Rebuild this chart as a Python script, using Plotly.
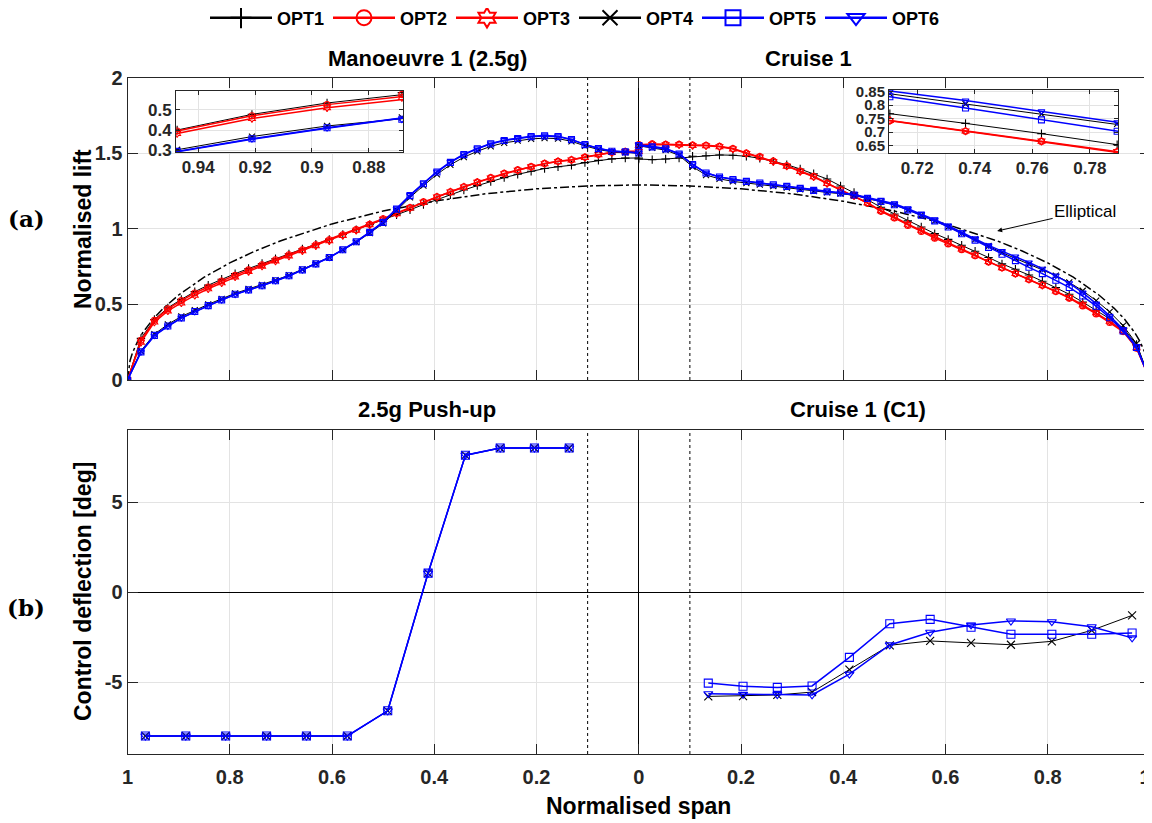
import plotly.graph_objects as go

W, H = 1152, 823
OFF = 8  # page body margin around the figure
FW, FH = W - OFF, H - OFF

# ---------------- data ----------------
# spanwise stations (fraction of half-span), root -> tip
span_eta = [0.0, 0.0263, 0.0526, 0.0789, 0.1053, 0.1316, 0.1579, 0.1842, 0.2105, 0.2368,
            0.2632, 0.2895, 0.3158, 0.3421, 0.3684, 0.3947, 0.4211, 0.4474, 0.4737, 0.5,
            0.5263, 0.5526, 0.5789, 0.6053, 0.6316, 0.6579, 0.6842, 0.7105, 0.7368, 0.7632,
            0.7895, 0.8158, 0.8421, 0.8684, 0.8947, 0.9211, 0.9474, 0.9737, 1.0]

# Manoeuvre 1 (2.5g), left half, tip -> root
man_opt1 = [0, 0.275, 0.400, 0.477, 0.533, 0.584, 0.627, 0.666, 0.703, 0.737, 0.770, 0.802, 0.834,
            0.866, 0.898, 0.930, 0.962, 0.994, 1.027, 1.060, 1.092, 1.125, 1.160, 1.193, 1.225, 1.256,
            1.285, 1.312, 1.338, 1.360, 1.380, 1.398, 1.410, 1.420, 1.437, 1.452, 1.462, 1.467, 1.468]
man_opt2 = [0, 0.262, 0.395, 0.470, 0.525, 0.575, 0.615, 0.655, 0.693, 0.728, 0.762, 0.795, 0.828,
            0.861, 0.894, 0.927, 0.960, 0.994, 1.030, 1.066, 1.104, 1.140, 1.178, 1.212, 1.245, 1.278,
            1.309, 1.338, 1.366, 1.389, 1.411, 1.432, 1.446, 1.456, 1.474, 1.492, 1.506, 1.511, 1.512]
man_opt3 = [0, 0.250, 0.383, 0.457, 0.510, 0.560, 0.603, 0.643, 0.682, 0.718, 0.753, 0.787, 0.820,
            0.854, 0.887, 0.921, 0.955, 0.990, 1.026, 1.062, 1.100, 1.137, 1.175, 1.210, 1.243, 1.276,
            1.307, 1.336, 1.364, 1.387, 1.409, 1.430, 1.444, 1.455, 1.472, 1.490, 1.504, 1.510, 1.511]
man_opt4 = [0, 0.193, 0.303, 0.368, 0.420, 0.462, 0.500, 0.537, 0.573, 0.602, 0.629, 0.661, 0.693,
            0.731, 0.770, 0.811, 0.860, 0.911, 0.971, 1.035, 1.120, 1.207, 1.285, 1.360, 1.423, 1.473,
            1.512, 1.545, 1.568, 1.582, 1.594, 1.599, 1.596, 1.578, 1.548, 1.524, 1.508, 1.505, 1.499]
man_opt5 = [0, 0.186, 0.295, 0.357, 0.411, 0.453, 0.492, 0.530, 0.567, 0.596, 0.623, 0.656, 0.689,
            0.728, 0.768, 0.810, 0.861, 0.914, 0.976, 1.042, 1.130, 1.219, 1.298, 1.375, 1.439, 1.490,
            1.528, 1.561, 1.583, 1.596, 1.609, 1.614, 1.609, 1.589, 1.556, 1.530, 1.512, 1.508, 1.501]
man_opt6 = [0, 0.184, 0.293, 0.355, 0.409, 0.451, 0.490, 0.528, 0.565, 0.594, 0.622, 0.655, 0.688,
            0.727, 0.767, 0.810, 0.862, 0.916, 0.978, 1.045, 1.133, 1.222, 1.301, 1.378, 1.442, 1.493,
            1.531, 1.564, 1.586, 1.599, 1.611, 1.616, 1.611, 1.591, 1.558, 1.532, 1.514, 1.509, 1.502]

# Cruise 1, right half, root -> tip
cru_opt1 = [1.461, 1.457, 1.461, 1.468, 1.479, 1.483, 1.488, 1.486, 1.479, 1.466, 1.446, 1.424, 1.395,
            1.364, 1.329, 1.283, 1.240, 1.192, 1.142, 1.098, 1.052, 1.012, 0.968, 0.930, 0.891, 0.851,
            0.810, 0.768, 0.732, 0.694, 0.653, 0.612, 0.567, 0.515, 0.462, 0.405, 0.343, 0.235, 0]
cru_opt2 = [1.556, 1.561, 1.558, 1.558, 1.554, 1.552, 1.545, 1.530, 1.501, 1.477, 1.448, 1.417, 1.382,
            1.347, 1.302, 1.258, 1.219, 1.170, 1.115, 1.071, 1.022, 0.982, 0.938, 0.900, 0.861, 0.821,
            0.780, 0.742, 0.703, 0.665, 0.626, 0.585, 0.541, 0.490, 0.437, 0.380, 0.320, 0.210, 0]
cru_opt3 = [1.552, 1.557, 1.555, 1.555, 1.551, 1.549, 1.542, 1.527, 1.498, 1.474, 1.445, 1.414, 1.379,
            1.344, 1.299, 1.256, 1.218, 1.172, 1.120, 1.078, 1.030, 0.990, 0.946, 0.907, 0.867, 0.826,
            0.783, 0.743, 0.704, 0.666, 0.627, 0.588, 0.546, 0.497, 0.445, 0.388, 0.326, 0.214, 0]
cru_opt4 = [1.548, 1.535, 1.520, 1.485, 1.410, 1.355, 1.330, 1.313, 1.302, 1.292, 1.282, 1.272, 1.260,
            1.249, 1.240, 1.232, 1.221, 1.200, 1.180, 1.158, 1.125, 1.090, 1.052, 1.013, 0.970, 0.930,
            0.886, 0.842, 0.804, 0.766, 0.730, 0.690, 0.645, 0.590, 0.525, 0.450, 0.360, 0.240, 0]
cru_opt5 = [1.550, 1.541, 1.528, 1.494, 1.424, 1.369, 1.342, 1.325, 1.313, 1.302, 1.291, 1.280, 1.267,
            1.254, 1.245, 1.236, 1.223, 1.201, 1.181, 1.159, 1.125, 1.090, 1.052, 1.012, 0.967, 0.925,
            0.877, 0.831, 0.789, 0.745, 0.703, 0.660, 0.612, 0.555, 0.488, 0.412, 0.325, 0.215, 0]
cru_opt6 = [1.555, 1.545, 1.530, 1.497, 1.426, 1.370, 1.343, 1.326, 1.314, 1.303, 1.292, 1.281, 1.268,
            1.256, 1.247, 1.238, 1.226, 1.206, 1.187, 1.165, 1.132, 1.098, 1.060, 1.020, 0.975, 0.935,
            0.890, 0.852, 0.817, 0.777, 0.736, 0.690, 0.640, 0.578, 0.505, 0.425, 0.335, 0.222, 0]

# elliptical reference distribution (root -> tip)
ell_eta = [0.0, 0.1, 0.2, 0.3, 0.4, 0.5, 0.6, 0.7, 0.75, 0.8, 0.85, 0.9, 0.93, 0.95, 0.97, 0.98, 0.99, 0.995, 1.0]
ell_lift = [1.29, 1.283, 1.264, 1.231, 1.182, 1.117, 1.032, 0.921, 0.853, 0.774, 0.680, 0.562, 0.474,
            0.403, 0.314, 0.257, 0.182, 0.129, 0.0]

# control surface stations (fraction of half-span), inboard -> outboard
ctrl_eta = [0.136, 0.204, 0.271, 0.339, 0.412, 0.491, 0.570, 0.650, 0.728, 0.808, 0.886, 0.965]
push_opt4 = [8, 8, 8, 7.6, 1.05, -6.6, -8, -8, -8, -8, -8, -8]
push_opt5 = [8, 8, 8, 7.6, 1.05, -6.6, -8, -8, -8, -8, -8, -8]
push_opt6 = [8, 8, 8, 7.6, 1.05, -6.6, -8, -8, -8, -8, -8, -8]
c1_opt4 = [-5.80, -5.78, -5.72, -5.56, -4.31, -2.96, -2.72, -2.83, -2.93, -2.74, -2.13, -1.30]
c1_opt5 = [-5.06, -5.24, -5.30, -5.22, -3.63, -1.76, -1.52, -1.96, -2.35, -2.35, -2.35, -2.28]
c1_opt6 = [-5.65, -5.69, -5.70, -5.72, -4.56, -2.94, -2.24, -1.83, -1.61, -1.65, -1.93, -2.55]

span_ticks = [-1, -0.8, -0.6, -0.4, -0.2, 0, 0.2, 0.4, 0.6, 0.8, 1]
span_ticktext = ['1', '0.8', '0.6', '0.4', '0.2', '0', '0.2', '0.4', '0.6', '0.8', '1\u2002']
lift_ticks = [0, 0.5, 1, 1.5, 2]
lift_ticktext = ['0', '0.5', '1', '1.5', '2']
defl_ticks = [-5, 0, 5]
defl_ticktext = ['-5', '0', '5']
inset_l_ticks = [-0.94, -0.92, -0.90, -0.88]
inset_l_ticktext = ['0.94', '0.92', '0.9', '0.88']
inset_l_yticks = [0.3, 0.4, 0.5]
inset_r_ticks = [0.72, 0.74, 0.76, 0.78]
inset_r_yticks = [0.65, 0.7, 0.75, 0.8, 0.85]
inset_r_yticktext = ['0.65', '0.7', '0.75', '0.8', '0.85']
break_eta = [-0.1, 0.1]

names = ['OPT1', 'OPT2', 'OPT3', 'OPT4', 'OPT5', 'OPT6']
man_series = [man_opt1, man_opt2, man_opt3, man_opt4, man_opt5, man_opt6]
cru_series = [cru_opt1, cru_opt2, cru_opt3, cru_opt4, cru_opt5, cru_opt6]

# ---------------- styles ----------------
style = {
    'OPT1': dict(color='black', symbol='cross-thin-open', lw=1.0),
    'OPT2': dict(color='#ff0000', symbol='circle-open', lw=1.5),
    'OPT3': dict(color='#ff0000', symbol='hexagram-open', lw=1.5),
    'OPT4': dict(color='black', symbol='x-thin-open', lw=1.0),
    'OPT5': dict(color='#0000ff', symbol='square-open', lw=1.5),
    'OPT6': dict(color='#0000ff', symbol='triangle-down-open', lw=1.5),
}

FONT = 'Liberation Sans'
TICKC = '#262626'
GRIDC = '#e3e3e3'


def px(x):
    return (x - OFF) / FW


def py(y):
    return 1 - (y - OFF) / FH


fig = go.Figure()

x_left = [-e for e in reversed(span_eta)]
x_right = list(span_eta)


def add_curve(name, xs, ys, xa, ya, msize):
    s = style[name]
    fig.add_trace(go.Scatter(
        x=xs, y=ys, xaxis=xa, yaxis=ya, mode='lines+markers', showlegend=False, name=name,
        line=dict(color=s['color'], width=s['lw']),
        marker=dict(symbol=s['symbol'], size=msize, color=s['color'],
                    line=dict(color=s['color'], width=1.1)),
        hoverinfo='skip'))


# elliptical
ell_x = [-e for e in reversed(ell_eta)] + ell_eta[1:]
ell_y = list(reversed(ell_lift)) + ell_lift[1:]
fig.add_trace(go.Scatter(x=ell_x, y=ell_y, xaxis='x', yaxis='y', mode='lines', showlegend=False,
                         line=dict(color='black', width=1.5, dash='dashdot'), hoverinfo='skip'))

# main lift curves
for nm, ys in zip(names, man_series):
    add_curve(nm, x_left, ys, 'x', 'y', 6)
for nm, ys in zip(names, cru_series):
    add_curve(nm, x_right, ys, 'x', 'y', 6)

# insets
for nm, ys in zip(names, man_series):
    add_curve(nm, x_left, ys, 'x3', 'y3', 6)
for nm, ys in zip(names, cru_series):
    add_curve(nm, x_right, ys, 'x4', 'y4', 6)

# control deflections
x_ctrl_left = [-e for e in ctrl_eta]
for nm, ys in zip(['OPT4', 'OPT5', 'OPT6'], [push_opt4, push_opt5, push_opt6]):
    add_curve(nm, x_ctrl_left, ys, 'x2', 'y2', 8)
for nm, ys in zip(['OPT4', 'OPT5', 'OPT6'], [c1_opt4, c1_opt5, c1_opt6]):
    add_curve(nm, ctrl_eta, ys, 'x2', 'y2', 8)

# legend entries
for nm in names:
    s = style[nm]
    fig.add_trace(go.Scatter(
        x=[None], y=[None], mode='lines+markers', name=nm, showlegend=True,
        line=dict(color=s['color'], width=2.5),
        marker=dict(symbol=s['symbol'], size=15, color=s['color'], line=dict(color=s['color'], width=2))))

tickfont = dict(family=FONT, size=20, color=TICKC, weight='bold')
insetfont = dict(family=FONT, size=17, color=TICKC, weight='bold')
insetfont_r = dict(family=FONT, size=15, color=TICKC, weight='bold')

axis_common = dict(showline=True, linecolor=TICKC, linewidth=1, mirror='ticks', ticks='inside',
                   ticklen=10, tickcolor=TICKC, showgrid=True, gridcolor=GRIDC, gridwidth=1,
                   automargin=False)
inset_common = {**axis_common, 'ticklen': 4}

x_dom = [px(127.5), px(1150)]

fig.update_layout(
    width=FW, height=FH, autosize=False,
    margin=dict(l=0, r=0, t=0, b=0, autoexpand=False),
    paper_bgcolor='white', plot_bgcolor='white',
    xaxis=dict(domain=x_dom, anchor='y', range=[-1, 1], tickvals=span_ticks, showticklabels=False,
               zeroline=True, zerolinecolor='black', zerolinewidth=1.2, **axis_common),
    yaxis=dict(domain=[py(380), py(77.5)], anchor='x', range=[0, 2], tickvals=lift_ticks,
               ticktext=lift_ticktext, tickfont=tickfont, zeroline=False, **axis_common),
    xaxis2=dict(domain=x_dom, anchor='y2', range=[-1, 1], tickvals=span_ticks, ticktext=span_ticktext,
                tickfont=tickfont, ticklabelstandoff=5, ticklabeloverflow='allow',
                zeroline=True, zerolinecolor='black', zerolinewidth=1.2, **axis_common),
    yaxis2=dict(domain=[py(754), py(430)], anchor='x2', range=[-9, 9], tickvals=defl_ticks,
                ticktext=defl_ticktext, tickfont=tickfont,
                zeroline=True, zerolinecolor='black', zerolinewidth=1.2, **axis_common),
    xaxis3=dict(domain=[px(176), px(403)], anchor='y3', range=[-0.9478, -0.868], tickvals=inset_l_ticks,
                ticktext=inset_l_ticktext, tickfont=insetfont, zeroline=False, **inset_common),
    yaxis3=dict(domain=[py(152), py(91)], anchor='x3', range=[0.292, 0.592], tickvals=inset_l_yticks,
                tickfont=insetfont, zeroline=False, **inset_common),
    xaxis4=dict(domain=[px(889), px(1118)], anchor='y4', range=[0.7102, 0.7898], tickvals=inset_r_ticks,
                tickfont=insetfont, zeroline=False, **inset_common),
    yaxis4=dict(domain=[py(153), py(90)], anchor='x4', range=[0.622, 0.856], tickvals=inset_r_yticks,
                ticktext=inset_r_yticktext, tickfont=insetfont_r, zeroline=False, **inset_common),
    legend=dict(orientation='h', x=px(205), y=py(18), xanchor='left', yanchor='middle',
                itemwidth=62, entrywidth=46,
                font=dict(family=FONT, size=18, color='black', weight='bold'),
                bgcolor='rgba(0,0,0,0)', itemclick=False),
    showlegend=True,
)

shapes = []
# white backing for the insets
shapes.append(dict(type='rect', xref='x3', yref='y3', x0=-0.9478, x1=-0.868, y0=0.292, y1=0.592,
                   fillcolor='white', line=dict(width=0), layer='below'))
shapes.append(dict(type='rect', xref='x4', yref='y4', x0=0.7102, x1=0.7898, y0=0.622, y1=0.856,
                   fillcolor='white', line=dict(width=0), layer='below'))
for xa, ya in [('x', 'y domain'), ('x2', 'y2 domain')]:
    for b in break_eta:
        shapes.append(dict(type='line', xref=xa, yref=ya, x0=b, x1=b, y0=0, y1=1,
                           line=dict(color='black', width=1, dash='3px,3px')))
fig.update_layout(shapes=shapes)

ann = []
title_font = dict(family=FONT, size=22, color='black', weight='bold')
for text, x, y in [('Manoeuvre 1 (2.5g)', 427, 59), ('Cruise 1', 808, 59),
                   ('2.5g Push-up', 427, 409), ('Cruise 1 (C1)', 858, 409)]:
    ann.append(dict(text=text, x=px(x), y=py(y), xref='paper', yref='paper', showarrow=False,
                    xanchor='center', yanchor='middle', font=title_font))
lab_font = dict(family=FONT, size=23, color='black', weight='bold')
ann.append(dict(text='Normalised lift', x=px(83), y=py(229), xref='paper', yref='paper', showarrow=False,
                textangle=-90, xanchor='center', yanchor='middle', font=lab_font))
ann.append(dict(text='Control deflection [deg]', x=px(83), y=py(592), xref='paper', yref='paper',
                showarrow=False, textangle=-90, xanchor='center', yanchor='middle', font=lab_font))
ann.append(dict(text='Normalised span', x=px(638), y=py(806), xref='paper', yref='paper', showarrow=False,
                xanchor='center', yanchor='middle', font=lab_font))
panel_font = dict(family='DejaVu Serif', size=23, color='black', weight='bold')
ann.append(dict(text='(a)', x=px(26), y=py(218), xref='paper', yref='paper', showarrow=False,
                xanchor='center', yanchor='middle', font=panel_font))
ann.append(dict(text='(b)', x=px(26), y=py(607), xref='paper', yref='paper', showarrow=False,
                xanchor='center', yanchor='middle', font=panel_font))
ann.append(dict(text='Elliptical', x=0.701, y=0.985, xref='x', yref='y', ax=88, ay=-20,
                showarrow=True, arrowhead=2, arrowsize=1, arrowwidth=1, arrowcolor='black',
                font=dict(family=FONT, size=17, color='black')))
fig.update_layout(annotations=ann)

fig.write_html('out.html')
